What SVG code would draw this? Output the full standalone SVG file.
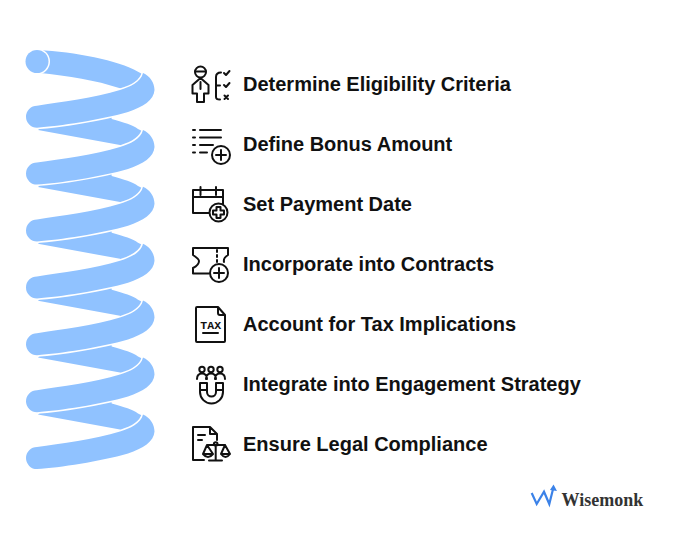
<svg xmlns="http://www.w3.org/2000/svg" width="678" height="551" viewBox="0 0 678 551">
<style>
.b{fill:#90c2ff}
.f{fill:#90c2ff;stroke:#fff;stroke-width:3;paint-order:stroke;stroke-linejoin:round}
.t{font-family:"Liberation Sans",Arial,sans-serif;font-weight:700;font-size:20px;fill:#111}
.i{fill:none;stroke:#111;stroke-width:2;stroke-linecap:round;stroke-linejoin:round}
.w{fill:#fff}
</style>
<defs>
<path id="back" d="M38 130L50 118L111 112L111.700 119C124 122.500 133 125 138 129L146 133L128 150L120 145Z"/>
<path id="front" d="M37 105.700C60 102 95 98 120 90C130 87 141 82 143 73C150 76 154.500 83 154.500 90C154 100 143 107 128 112C100 120 60 126 37 127.700A11 11 0 0 1 37 105.700Z"/>
<g id="plus"><circle r="9" class="i w"/><path class="i" d="M0-5V5M-5 0H5"/></g>
<g id="plus2"><circle r="9" class="i w"/><path class="i" d="M-2-5.500H2V-2H5.500V2H2V5.500H-2V2H-5.500V-2H-2Z"/></g>
</defs>
<g id="spring">
<path class="b" d="M38 50C75 52 118 60 138 71.700L146 76L128 93L120 88.300C95 80 70 76 38 72.700Z"/>
<use href="#back" class="b"/>
<use href="#back" class="b" y="56.900"/>
<use href="#back" class="b" y="113.800"/>
<use href="#back" class="b" y="170.700"/>
<use href="#back" class="b" y="227.600"/>
<use href="#back" class="b" y="284.500"/>
<use href="#front" class="f"/>
<use href="#front" class="f" y="56.900"/>
<use href="#front" class="f" y="113.800"/>
<use href="#front" class="f" y="170.700"/>
<use href="#front" class="f" y="227.600"/>
<use href="#front" class="f" y="284.500"/>
<use href="#front" class="f" y="341.400"/>
<circle class="f" cx="37" cy="61.500" r="11.500"/>
</g>
<g id="item1">
<g class="i"><circle cx="200.500" cy="72" r="5.500"/><path d="M195.500 71.500H205.500M200.500 78L192.500 85V93.500H197V102H204V93.500H208.500V85ZM200.500 82V89"/><path d="M221 72.500Q216 72.500 216 77V97Q216 99.500 220 99.500M216 85.500H220M224 73L226 75L229.500 71M224 85L226 87L229.500 83M224.500 95.500L228 99M228 95.500L224.500 99"/></g>
<text class="t" x="243" y="91">Determine Eligibility Criteria</text>
</g>
<g id="item2">
<path class="i" d="M193 130H195M200 130H221M193 137.500H195M200 137.500H221M193 145H195M200 145H213M193 152.500H195M200 152.500H207"/>
<use href="#plus" x="221" y="155"/>
<text class="t" x="243" y="151">Define Bonus Amount</text>
</g>
<g id="item3">
<path class="i" d="M223 206V190H193V213H210M193 197H223M200.500 187V195M216 187V195"/>
<use href="#plus2" x="218.500" y="212.500"/>
<text class="t" x="243" y="211">Set Payment Date</text>
</g>
<g id="item4">
<path class="i" d="M193 248H228V255Q223 258 224 262M193 248V255Q199 259 199 261Q199 265 193 268V273.500H209M217 250V252M217 255V257M217 260V262"/>
<use href="#plus" x="219" y="273"/>
<text class="t" x="243" y="271">Incorporate into Contracts</text>
</g>
<g id="item5">
<path class="i" d="M218 307H197Q196 307 196 308V341Q196 342 197 342H224Q225 342 225 341V315ZM218 307V313Q218 315 220 315H225M203 333H218"/>
<text x="210.700" y="329" text-anchor="middle" style="font-family:'Liberation Mono',monospace;font-weight:700;font-size:11.500px;fill:#111">TAX</text>
<text class="t" x="243" y="331">Account for Tax Implications</text>
</g>
<g id="item6">
<g class="i"><circle cx="202" cy="369.500" r="2.700"/><circle cx="211" cy="369.500" r="2.700"/><circle cx="220" cy="369.500" r="2.700"/><path d="M197 379Q197 373.500 202 373.500Q207 373.500 207 379M206 379Q206 373.500 211 373.500Q216 373.500 216 379M215 379Q215 373.500 220 373.500Q225 373.500 225 379M200 383V392A11.500 11.500 0 0 0 223 392V383H216V392A4.500 4.500 0 0 1 207 392V383ZM200 390H207M216 390H223"/></g>
<text class="t" x="243" y="391">Integrate into Engagement Strategy</text>
</g>
<g id="item7">
<g class="i"><path d="M204 460H193V427H210L217 434V440M210 427V434H217M198 435H205M198 440H202M215.700 447V460M209 460.500H222M207 445H225M207 445L203 454H213ZM225 445L221 454H230ZM203 454Q208 460 213 454M221 454Q225.500 460 230 454"/><circle cx="215.700" cy="444" r="1.800"/></g>
<text class="t" x="243" y="451">Ensure Legal Compliance</text>
</g>
<g id="logo">
<path d="M531.700 493L536.700 504L544 491.700L549.300 504L553.300 488" fill="none" stroke="#3b82e8" stroke-width="2.200"/>
<path d="M553.500 484.500L557 491L550 490Z" fill="#3b82e8"/>
<text x="561.500" y="506" style="font-family:'Liberation Serif',serif;font-weight:700;font-size:18px;fill:#333">Wisemonk</text>
</g>
</svg>
